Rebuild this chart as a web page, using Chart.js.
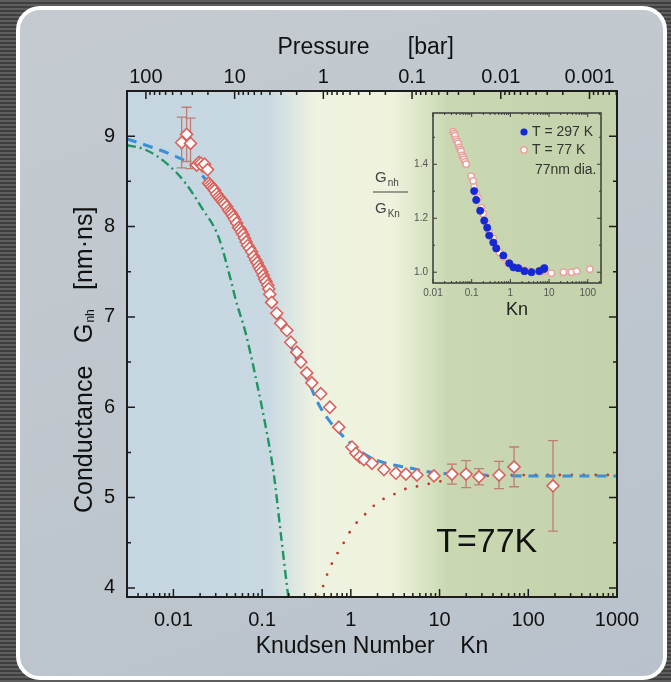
<!DOCTYPE html>
<html>
<head>
<meta charset="utf-8">
<title>Conductance vs Knudsen number</title>
<script src="https://cdn.jsdelivr.net/npm/chart.js@4.4.1/dist/chart.umd.min.js"></script>
<style>
  html, body { margin: 0; padding: 0; }
  body {
    width: 671px; height: 682px; overflow: hidden; position: relative;
    background: repeating-linear-gradient(to bottom, #5e5e5e 0, #5e5e5e 2px, #3f3f3f 2px, #3f3f3f 4px);
  }
  #panel {
    position: absolute; left: 16px; top: 6px; width: 643px; height: 666px;
    border: 4px solid #fff; border-radius: 24px;
    background: linear-gradient(160deg, #c4cad0 0%, #bec6cd 60%, #b9c2cc 100%);
  }
  canvas { position: absolute; }
  #main { left: 0; top: 0; }
  #inset { left: 360px; top: 100px; }
</style>
</head>
<body>
<div id="panel"></div>
<canvas id="main" width="671" height="682"></canvas>
<canvas id="inset" width="260" height="225"></canvas>
<script>
// measured conductance at 77 K, G_nh in nm·ns, vs Knudsen number
const knudsen = [0.0124, 0.0141, 0.0156, 0.0183, 0.0195, 0.0205, 0.0214, 0.0225, 0.0243,
  0.0250, 0.0260, 0.0270, 0.0281, 0.0292, 0.0307, 0.0324, 0.0337, 0.0350, 0.0364, 0.0378,
  0.0399, 0.0420, 0.0437, 0.0454, 0.0472, 0.0491, 0.0517, 0.0544, 0.0566, 0.0589, 0.0612,
  0.0636, 0.0661, 0.0688, 0.0724, 0.0763, 0.0804, 0.0847, 0.0881, 0.0916, 0.0952, 0.0990,
  0.103, 0.107, 0.111, 0.116, 0.119, 0.122,
  0.128, 0.146, 0.162, 0.190, 0.210, 0.246, 0.273, 0.319, 0.363, 0.458, 0.579, 0.732,
  1.03, 1.14, 1.26, 1.40, 1.73, 2.36, 3.22, 4.18, 5.56, 8.65,
  13.8, 19.9, 27.8, 46.8, 69.2, 190];
const conductance = [8.93, 9.02, 8.92, 8.68, 8.71, 8.70, 8.67, 8.69, 8.63,
  8.48, 8.46, 8.44, 8.42, 8.40, 8.36, 8.33, 8.31, 8.29, 8.27, 8.25,
  8.22, 8.18, 8.16, 8.14, 8.11, 8.08, 8.04, 7.99, 7.97, 7.94, 7.91,
  7.87, 7.83, 7.79, 7.76, 7.72, 7.67, 7.63, 7.60, 7.56, 7.53, 7.50,
  7.46, 7.42, 7.39, 7.35, 7.31, 7.25,
  7.16, 7.04, 6.93, 6.85, 6.72, 6.61, 6.50, 6.38, 6.27, 6.15, 6.00, 5.78,
  5.56, 5.49, 5.45, 5.42, 5.38, 5.31, 5.27, 5.26, 5.25, 5.24,
  5.26, 5.26, 5.23, 5.25, 5.34, 5.13];
// error bar half-heights (only the end points carry them)
const conductanceErr = knudsen.map((k, i) => ({
  0: 0.28, 1: 0.30, 2: 0.28
})[i] || 0);
const tailErr = [0.11, 0.15, 0.09, 0.15, 0.22, 0.50];
tailErr.forEach((e, j) => { conductanceErr[knudsen.length - tailErr.length + j] = e; });

// combined fit (blue dashed)
const fitKn = [0.003, 0.0049, 0.0088, 0.016, 0.025, 0.04, 0.06, 0.09, 0.12, 0.16, 0.21, 0.27,
  0.336, 0.435, 0.594, 0.95, 1.48, 2.48, 4.5, 8.2, 15, 30, 100, 1000];
const fitG = [8.97, 8.90, 8.81, 8.68, 8.48, 8.21, 7.92, 7.60, 7.28, 6.95, 6.68, 6.45,
  6.27, 6.03, 5.83, 5.62, 5.47, 5.38, 5.33, 5.28, 5.26, 5.25, 5.24, 5.24];

// continuum limit (green dash-dot)
const viscKn = [0.003, 0.00485, 0.00883, 0.0137, 0.0208, 0.0324, 0.0454, 0.0504, 0.0653,
  0.0847, 0.110, 0.135, 0.162, 0.195, 0.2];
const viscG = [8.90, 8.85, 8.68, 8.48, 8.21, 7.88, 7.37, 7.19, 6.82,
  6.33, 5.78, 5.27, 4.61, 3.94, 3.86];

// free molecular limit (red dotted)
const kinKn = [0.43, 0.496, 0.55, 0.626, 0.732, 0.879, 1.03, 1.40, 1.82, 2.48, 3.30, 4.51,
  6.16, 8.20, 11.2, 15.3, 30, 100, 1000];
const kinG = [3.90, 4.04, 4.17, 4.29, 4.41, 4.54, 4.66, 4.80, 4.91, 5.00, 5.05, 5.11,
  5.13, 5.16, 5.19, 5.23, 5.24, 5.25, 5.25];

// inset: G_nh / G_Kn
const ratio297Kn = [0.116, 0.131, 0.166, 0.211, 0.252, 0.284, 0.362, 0.432, 0.658, 0.940,
  1.20, 1.61, 2.31, 3.51, 5.6, 7.19, 7.57];
const ratio297 = [1.301, 1.268, 1.228, 1.191, 1.165, 1.136, 1.110, 1.088, 1.062, 1.033,
  1.018, 1.015, 1.004, 1.000, 1.004, 1.011, 1.015];
const ratio77Kn = [0.0330, 0.0351, 0.0372, 0.0395, 0.0420, 0.0446, 0.0473, 0.0503, 0.0533,
  0.0566, 0.0600, 0.0638, 0.0678, 0.0719,
  0.0970, 0.109, 0.116, 0.131, 0.147, 0.177, 0.199, 0.237, 0.284, 0.362, 0.432, 0.518,
  0.658, 0.887, 1.43, 2.31, 3.11, 5.33, 7.57, 11.5, 23.5, 38, 51.8, 113];
const ratio77 = [1.521, 1.513, 1.506, 1.492, 1.485, 1.477, 1.462, 1.455, 1.448,
  1.433, 1.426, 1.418, 1.409, 1.400,
  1.356, 1.338, 1.316, 1.294, 1.275, 1.239, 1.217, 1.183, 1.147, 1.125, 1.092, 1.073,
  1.055, 1.033, 1.018, 1.007, 1.004, 1.004, 1.004, 0.996, 1.000, 1.000, 1.004, 1.011];

// tick labels
const knTickLabels = [0.01, 0.1, 1, 10, 100, 1000];
const pressureTickLabels = [100, 10, 1, 0.1, 0.01, 0.001];
const gTickLabels = [4, 5, 6, 7, 8, 9];
const insetKnTickLabels = [0.01, 0.1, 1, 10, 100];
const ratioTickLabels = [1.0, 1.2, 1.4];

const knMin = 0.003, knMax = 1000;
const pressurePerKn = 0.49; // bar at Kn = 1

const FONT = "'Liberation Sans', Arial, Helvetica, sans-serif";
Chart.defaults.font.family = FONT;
Chart.defaults.color = '#111';

const pts = (xs, ys) => xs.map((x, i) => ({ x, y: ys[i] }));

function logLabel(list) {
  return v => {
    const t = list.find(t => Math.abs(Math.log10(v) - Math.log10(t)) < 1e-6);
    return t === undefined ? '' : String(t);
  };
}

// [value, isMajor] pairs for a scale: 1..9 x 10^n on log axes
function tickMarks(scale, isMajor) {
  if (scale.type !== 'logarithmic') {
    return scale.ticks.map(t => [t.value, isMajor(t.value)]);
  }
  const lo = Math.min(scale.min, scale.max), hi = Math.max(scale.min, scale.max);
  const out = [];
  for (let e = Math.floor(Math.log10(lo)); e <= Math.ceil(Math.log10(hi)); e++) {
    for (let s = 1; s <= 9; s++) {
      const v = s * Math.pow(10, e);
      if (v >= lo * 0.9999 && v <= hi * 1.0001) out.push([v, s === 1]);
    }
  }
  return out;
}

// inward tick marks on every side of a plot box
function drawBoxTicks(chart, o) {
  const { ctx, chartArea: a } = chart;
  ctx.save();
  ctx.strokeStyle = o.color;
  ctx.lineWidth = o.tickWidth;
  ctx.beginPath();
  for (const scale of Object.values(chart.scales)) {
    for (const [v, major] of tickMarks(scale, o.isMajor)) {
      const len = major ? o.major : o.minor;
      const p = scale.getPixelForValue(v);
      if (scale.isHorizontal()) {
        const sides = o.mirrorX ? ['top', 'bottom'] : [scale.position];
        for (const s of sides) {
          const y0 = s === 'top' ? a.top : a.bottom;
          ctx.moveTo(p, y0);
          ctx.lineTo(p, s === 'top' ? y0 + len : y0 - len);
        }
      } else {
        ctx.moveTo(a.left, p); ctx.lineTo(a.left + len, p);
        ctx.moveTo(a.right, p); ctx.lineTo(a.right - len, p);
      }
    }
  }
  ctx.stroke();
  ctx.lineWidth = o.width;
  ctx.strokeRect(a.left, a.top, a.right - a.left, a.bottom - a.top);
  ctx.restore();
}

const mainDecor = {
  id: 'mainDecor',
  beforeDraw(chart) {
    const { ctx, chartArea: a } = chart;
    const w = a.right - a.left;
    const g = ctx.createLinearGradient(a.left, 0, a.right, 0);
    const at = x => (x - a.left) / w;
    g.addColorStop(0, '#c5d5e1');
    g.addColorStop(at(268), '#c9d9e2');
    g.addColorStop(at(316), '#eef3e1');
    g.addColorStop(at(392), '#eff3dd');
    g.addColorStop(at(448), '#c9d8b2');
    g.addColorStop(1, '#c3d2aa');
    ctx.save();
    ctx.fillStyle = g;
    ctx.fillRect(a.left, a.top, w, a.bottom - a.top);
    ctx.restore();
  },
  beforeDatasetDraw(chart, args) {
    if (args.index !== 0) return;
    const { ctx } = chart;
    const xs = chart.scales.x, ys = chart.scales.y;
    ctx.save();
    ctx.strokeStyle = '#c07c76';
    ctx.lineWidth = 1.3;
    ctx.beginPath();
    knudsen.forEach((k, i) => {
      const e = conductanceErr[i];
      if (!e) return;
      const px = xs.getPixelForValue(k);
      const y1 = ys.getPixelForValue(conductance[i] + e);
      const y2 = ys.getPixelForValue(conductance[i] - e);
      ctx.moveTo(px, y1); ctx.lineTo(px, y2);
      ctx.moveTo(px - 5, y1); ctx.lineTo(px + 5, y1);
      ctx.moveTo(px - 5, y2); ctx.lineTo(px + 5, y2);
    });
    ctx.stroke();
    ctx.restore();
  },
  afterDraw(chart) {
    drawBoxTicks(chart, {
      color: '#1c1c1c', width: 2, tickWidth: 1.5, major: 8, minor: 4,
      isMajor: v => Math.abs(v - Math.round(v)) < 1e-6
    });
    const { ctx } = chart;
    const xs = chart.scales.x, ys = chart.scales.y;
    ctx.save();
    ctx.fillStyle = '#111';
    ctx.font = `34px ${FONT}`;
    ctx.textAlign = 'center';
    ctx.textBaseline = 'middle';
    ctx.fillText('T=77K', xs.getPixelForValue(34), ys.getPixelForValue(4.5));

    // vertical axis title with subscript
    ctx.translate(92, 513);
    ctx.rotate(-Math.PI / 2);
    ctx.textAlign = 'left';
    ctx.textBaseline = 'alphabetic';
    ctx.font = `25px ${FONT}`;
    ctx.fillText('Conductance', 0, 0);
    ctx.fillText('G', 170, 0);
    const gw = ctx.measureText('G').width;
    ctx.font = `12px ${FONT}`;
    ctx.fillText('nh', 170 + gw + 1, 2);
    ctx.font = `25px ${FONT}`;
    ctx.fillText('[nm·ns]', 223, 0);
    ctx.restore();
  }
};

const tickFont = { size: 20 };

new Chart(document.getElementById('main'), {
  type: 'scatter',
  data: {
    datasets: [
      {
        label: 'T = 77 K',
        data: pts(knudsen, conductance),
        pointStyle: 'rectRot',
        pointRadius: 6,
        pointBackgroundColor: '#ffffff',
        pointBorderColor: '#d8625c',
        pointBorderWidth: 1.6
      },
      {
        label: 'fit',
        data: pts(fitKn, fitG),
        showLine: true, pointRadius: 0,
        borderColor: '#3a8fd6', borderWidth: 3, borderDash: [10, 7],
        cubicInterpolationMode: 'monotone'
      },
      {
        label: 'free molecular',
        data: pts(kinKn, kinG),
        showLine: true, pointRadius: 0,
        borderColor: '#c0392b', borderWidth: 2.8, borderDash: [0, 12],
        borderCapStyle: 'round',
        cubicInterpolationMode: 'monotone'
      },
      {
        label: 'continuum',
        data: pts(viscKn, viscG),
        showLine: true, pointRadius: 0,
        borderColor: '#1d9660', borderWidth: 2.4, borderDash: [9, 4, 2, 4],
        cubicInterpolationMode: 'monotone'
      }
    ]
  },
  options: {
    responsive: false,
    animation: false,
    events: [],
    layout: { padding: { left: 0, right: 54, top: 0, bottom: 0 } },
    plugins: { legend: { display: false }, tooltip: { enabled: false } },
    scales: {
      x: {
        type: 'logarithmic',
        position: 'bottom',
        min: knMin, max: knMax,
        afterFit: s => { s.height = 85; },
        grid: { display: false, drawTicks: false },
        border: { display: false },
        ticks: { font: tickFont, padding: 11, autoSkip: false, maxRotation: 0, callback: logLabel(knTickLabels) },
        title: { display: true, text: 'Knudsen Number    Kn', font: { size: 23 }, padding: { top: 0, bottom: 22 } }
      },
      x2: {
        type: 'logarithmic',
        position: 'top',
        reverse: true,
        min: pressurePerKn / knMax, max: pressurePerKn / knMin,
        afterFit: s => { s.height = 91; },
        grid: { display: false, drawTicks: false },
        border: { display: false },
        ticks: { font: tickFont, padding: 2, autoSkip: false, maxRotation: 0, callback: logLabel(pressureTickLabels) },
        title: { display: true, text: 'Pressure      [bar]  ', font: { size: 23 }, padding: { top: 34, bottom: 0 } }
      },
      y: {
        type: 'linear',
        min: 3.9, max: 9.5,
        afterFit: s => { s.width = 127; },
        grid: { display: false, drawTicks: false },
        border: { display: false },
        ticks: {
          font: tickFont, padding: 12, stepSize: 0.5, includeBounds: false, autoSkip: false,
          callback: v => gTickLabels.some(t => Math.abs(t - v) < 1e-6) ? String(Math.round(v)) : ''
        }
      }
    }
  },
  plugins: [mainDecor]
});

const insetDecor = {
  id: 'insetDecor',
  afterDraw(chart) {
    drawBoxTicks(chart, {
      color: '#3a3a3a', width: 1.5, tickWidth: 1, major: 4, minor: 2, mirrorX: true,
      isMajor: v => ratioTickLabels.some(t => Math.abs(t - v) < 1e-6)
    });
    const { ctx } = chart;
    ctx.save();
    ctx.textBaseline = 'middle';
    ctx.textAlign = 'left';
    ctx.font = `14px ${FONT}`;
    ctx.beginPath();
    ctx.arc(164, 32, 3.6, 0, Math.PI * 2);
    ctx.fillStyle = '#1428d6';
    ctx.fill();
    ctx.beginPath();
    ctx.arc(164, 50, 3.2, 0, Math.PI * 2);
    ctx.fillStyle = '#ffffff';
    ctx.fill();
    ctx.strokeStyle = '#e9a3a0';
    ctx.lineWidth = 1.5;
    ctx.stroke();
    ctx.fillStyle = '#333';
    ctx.fillText('T = 297 K', 172, 32);
    ctx.fillText('T = 77 K', 172, 50);
    ctx.fillText('77nm dia.', 175, 70);

    // ratio label left of the box
    ctx.textBaseline = 'alphabetic';
    ctx.fillStyle = '#444';
    ctx.font = `15px ${FONT}`;
    ctx.fillText('G', 15, 82);
    ctx.fillText('G', 15, 113);
    const gw = ctx.measureText('G').width;
    ctx.font = `10px ${FONT}`;
    ctx.fillText('nh', 15 + gw + 1, 86);
    ctx.fillText('Kn', 15 + gw + 1, 117);
    ctx.strokeStyle = '#444';
    ctx.lineWidth = 1.2;
    ctx.beginPath();
    ctx.moveTo(13, 92); ctx.lineTo(48, 92);
    ctx.stroke();
    ctx.restore();
  }
};

const insetTick = { size: 10 };

new Chart(document.getElementById('inset'), {
  type: 'scatter',
  data: {
    datasets: [
      {
        label: 'T = 297 K',
        data: pts(ratio297Kn, ratio297),
        pointRadius: 3.6,
        pointBackgroundColor: '#1428d6',
        pointBorderColor: '#1a2cc8',
        pointBorderWidth: 0.8
      },
      {
        label: 'T = 77 K',
        data: pts(ratio77Kn, ratio77),
        pointRadius: 3.2,
        pointBackgroundColor: '#ffffff',
        pointBorderColor: '#e9a3a0',
        pointBorderWidth: 1.5
      }
    ]
  },
  options: {
    responsive: false,
    animation: false,
    events: [],
    layout: { padding: { left: 0, right: 19, top: 13, bottom: 0 } },
    plugins: { legend: { display: false }, tooltip: { enabled: false } },
    scales: {
      x: {
        type: 'logarithmic',
        min: 0.01, max: 220,
        afterFit: s => { s.height = 42; },
        grid: { display: false, drawTicks: false },
        border: { display: false },
        ticks: { font: insetTick, color: '#555', padding: 4, autoSkip: false, maxRotation: 0, callback: logLabel(insetKnTickLabels) },
        title: { display: true, text: 'Kn', color: '#222', font: { size: 18 }, padding: { top: 0, bottom: 4 } }
      },
      y: {
        type: 'linear',
        min: 0.96, max: 1.59,
        afterFit: s => { s.width = 73; },
        grid: { display: false, drawTicks: false },
        border: { display: false },
        ticks: {
          font: insetTick, color: '#555', padding: 5, stepSize: 0.1, includeBounds: false, autoSkip: false,
          callback: v => ratioTickLabels.some(t => Math.abs(t - v) < 1e-6) ? v.toFixed(1) : ''
        }
      }
    }
  },
  plugins: [insetDecor]
});
</script>
</body>
</html>
